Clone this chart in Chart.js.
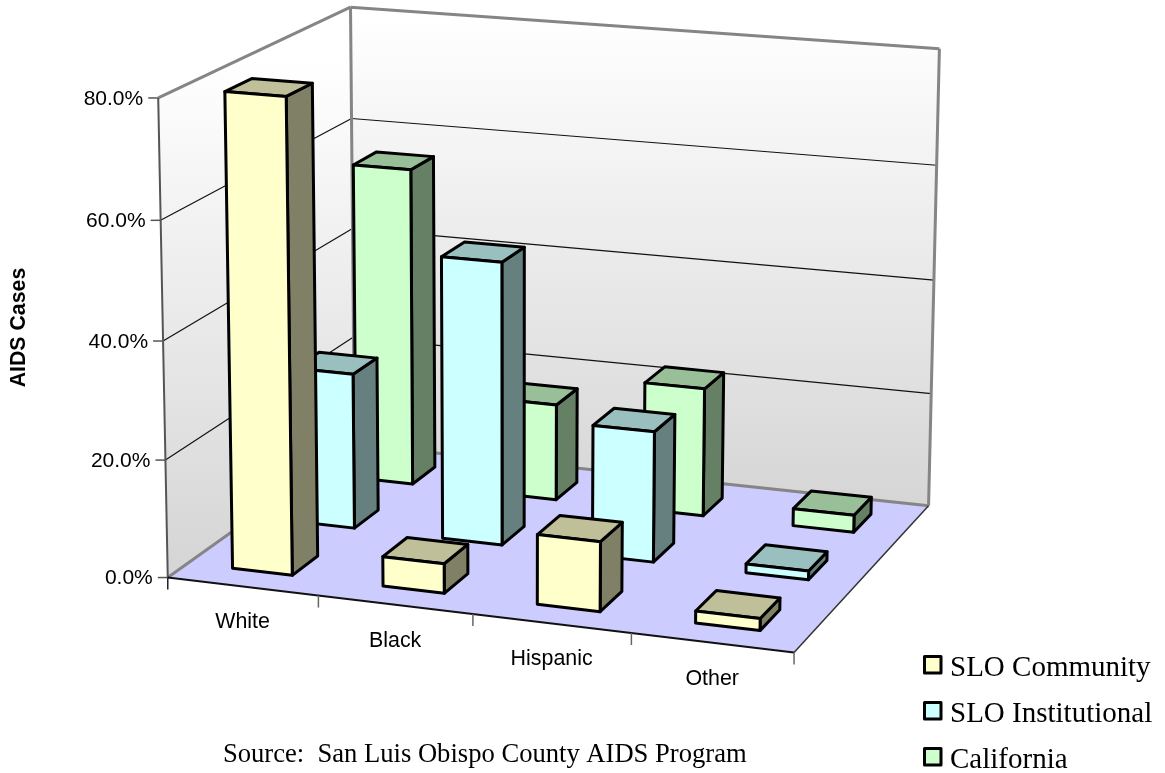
<!DOCTYPE html>
<html>
<head>
<meta charset="utf-8">
<title>AIDS Cases</title>
<script src="https://cdn.jsdelivr.net/npm/chart.js@4/dist/chart.umd.min.js"></script>
<style>
  html, body { margin: 0; padding: 0; background: #fff; }
  canvas { display: block; }
</style>
</head>
<body>
<canvas id="cases-chart" width="1165" height="773"></canvas>
<script>
const groups = ['White', 'Black', 'Hispanic', 'Other'];
const seriesNames = ['SLO Community', 'SLO Institutional', 'California'];
const sloCommunity = [80, 5, 11.7, 2];
const sloInstitutional = [27, 48.7, 22.4, 1.5];
const california = [56.3, 17, 22.5, 3];
const valueTicks = [0, 20, 40, 60, 80];

const frontColors = ['#FFFFCC', '#CCFFFF', '#CCFFCC'];
const topColors = ['#BFBF99', '#99BFBF', '#99BF99'];
const sideColors = ['#808066', '#668080', '#668066'];

// camera of the 3D box: [across, depth, height] -> canvas position of its corners
const boxCorners = [
    [0, 0, 0, 169, 577],
    [1, 0, 0, 794, 653],
    [1, 1, 0, 929, 505],
    [0, 1, 0, 353, 445],
    [0, 0, 1, 157, 98],
    [0, 1, 1, 352, 7],
    [1, 1, 1, 939, 49]
];

// share of a category band taken by a bar (gap width 150%)
const barShare = 0.4;

// least squares fit of the 3x4 projection matrix
function solveCamera(points) {
    const rows = [];
    const rhs = [];
    points.forEach(([a, b, c, px, py]) => {
        rows.push([a, b, c, 1, 0, 0, 0, 0, -px * a, -px * b, -px * c]);
        rhs.push(px);
        rows.push([0, 0, 0, 0, a, b, c, 1, -py * a, -py * b, -py * c]);
        rhs.push(py);
    });
    const n = 11;
    const m = [];
    for (let i = 0; i < n; i++) {
        m[i] = [];
        for (let j = 0; j < n; j++) {
            m[i][j] = rows.reduce((sum, r) => sum + r[i] * r[j], 0);
        }
        m[i][n] = rows.reduce((sum, r, k) => sum + r[i] * rhs[k], 0);
    }
    for (let i = 0; i < n; i++) {
        let pivot = i;
        for (let k = i + 1; k < n; k++) {
            if (Math.abs(m[k][i]) > Math.abs(m[pivot][i])) pivot = k;
        }
        [m[i], m[pivot]] = [m[pivot], m[i]];
        for (let k = 0; k < n; k++) {
            if (k === i) continue;
            const f = m[k][i] / m[i][i];
            for (let j = i; j <= n; j++) m[k][j] -= f * m[i][j];
        }
    }
    return m.map((row, i) => row[n] / row[i]);
}

const cam = solveCamera(boxCorners);

function project(a, b, c) {
    const w = cam[8] * a + cam[9] * b + cam[10] * c + 1;
    return [
        (cam[0] * a + cam[1] * b + cam[2] * c + cam[3]) / w,
        (cam[4] * a + cam[5] * b + cam[6] * c + cam[7]) / w
    ];
}

function polygon(ctx, pts, fill, stroke, lineWidth) {
    ctx.beginPath();
    pts.forEach((p, i) => (i ? ctx.lineTo(p[0], p[1]) : ctx.moveTo(p[0], p[1])));
    ctx.closePath();
    if (fill) {
        ctx.fillStyle = fill;
        ctx.fill();
    }
    if (stroke) {
        ctx.strokeStyle = stroke;
        ctx.lineWidth = lineWidth;
        ctx.stroke();
    }
}

function line(ctx, p, q, color, width) {
    ctx.beginPath();
    ctx.moveTo(p[0], p[1]);
    ctx.lineTo(q[0], q[1]);
    ctx.strokeStyle = color;
    ctx.lineWidth = width;
    ctx.stroke();
}

function wallGradient(ctx, top, bottom) {
    const g = ctx.createLinearGradient(0, top, 0, bottom);
    g.addColorStop(0, '#ffffff');
    g.addColorStop(1, '#d6d6d6');
    return g;
}

// floor, walls, gridlines, ticks and their labels
function drawBox(chart) {
    const ctx = chart.ctx;
    const y = chart.scales.y;
    const x = chart.scales.x;
    const heightOf = v => (y.bottom - y.getPixelForValue(v)) / y.height;
    const acrossOf = v => (x.getPixelForValue(v) - x.left) / x.width;

    polygon(ctx, [project(0, 0, 0), project(0, 1, 0), project(0, 1, 1), project(0, 0, 1)], wallGradient(ctx, 60, 560));
    polygon(ctx, [project(0, 1, 0), project(1, 1, 0), project(1, 1, 1), project(0, 1, 1)], wallGradient(ctx, 15, 500));
    polygon(ctx, [project(0, 0, 0), project(1, 0, 0), project(1, 1, 0), project(0, 1, 0)], '#CCCCFF');

    y.ticks.forEach(tick => {
        const h = heightOf(tick.value);
        const front = project(0, 0, h);
        if (tick.value > 0 && tick.value < 80) {
            line(ctx, front, project(0, 1, h), '#111', 1.2);
            line(ctx, project(0, 1, h), project(1, 1, h), '#111', 1.2);
        }
        line(ctx, [front[0] - 10, front[1]], front, '#555', 1.5);
        ctx.fillStyle = '#000';
        ctx.font = '21px "Liberation Sans"';
        ctx.textAlign = 'right';
        ctx.textBaseline = 'middle';
        ctx.fillText(tick.label, front[0] - 15, front[1] + 1);
    });

    // outline of the walls
    line(ctx, project(0, 0, 1), project(0, 1, 1), '#858585', 3);
    line(ctx, project(0, 1, 1), project(1, 1, 1), '#858585', 3);
    line(ctx, project(0, 1, 0), project(0, 1, 1), '#858585', 3);
    line(ctx, project(1, 1, 0), project(1, 1, 1), '#858585', 3);
    line(ctx, project(0, 0, 0), project(0, 1, 0), '#858585', 3);
    line(ctx, project(0, 1, 0), project(1, 1, 0), '#858585', 3);
    line(ctx, project(0, 0, 0), project(0, 0, 1), '#555', 2);
    line(ctx, project(0, 0, 0), project(1, 0, 0), '#111', 2);
    line(ctx, project(1, 0, 0), project(1, 1, 0), '#333', 1.5);

    // category separators under the front edge
    for (let i = 0; i <= groups.length; i++) {
        const p = project(acrossOf(i - 0.5), 0, 0);
        line(ctx, p, [p[0], p[1] + 12], i === 0 ? '#222' : '#666', 1.5);
    }
    ctx.fillStyle = '#000';
    ctx.font = '21.4px "Liberation Sans"';
    ctx.textAlign = 'center';
    ctx.textBaseline = 'middle';
    groups.forEach((name, i) => {
        const p = project(acrossOf(i), 0, 0);
        ctx.fillText(name, p[0], p[1] + 36);
    });
}

// one 3D column: front, top and right side
function drawColumn(chart, seriesIndex, groupIndex, value) {
    const ctx = chart.ctx;
    const { x, y, z } = chart.scales;
    const halfAcross = barShare / groups.length / 2;
    const halfDepth = barShare / seriesNames.length / 2;
    const a = (x.getPixelForValue(groupIndex) - x.left) / x.width;
    const b = (z.getPixelForValue(seriesIndex) - z.left) / z.width;
    const h = (y.bottom - y.getPixelForValue(value)) / y.height;
    const a0 = a - halfAcross, a1 = a + halfAcross;
    const b0 = b - halfDepth, b1 = b + halfDepth;

    ctx.lineJoin = 'round';
    polygon(ctx, [project(a1, b0, 0), project(a1, b1, 0), project(a1, b1, h), project(a1, b0, h)], sideColors[seriesIndex], '#000', 3);
    polygon(ctx, [project(a0, b0, h), project(a1, b0, h), project(a1, b1, h), project(a0, b1, h)], topColors[seriesIndex], '#000', 3);
    polygon(ctx, [project(a0, b0, 0), project(a1, b0, 0), project(a1, b0, h), project(a0, b0, h)], frontColors[seriesIndex], '#000', 3);
}

function drawLegend(chart) {
    const ctx = chart.ctx;
    chart.data.datasets.forEach((ds, i) => {
        const rowY = 665 + i * 46;
        ctx.fillStyle = ds.backgroundColor;
        ctx.strokeStyle = '#000';
        ctx.lineWidth = 3;
        ctx.fillRect(924.5, rowY - 8.5, 16.5, 16.5);
        ctx.strokeRect(924.5, rowY - 8.5, 16.5, 16.5);
        ctx.fillStyle = '#000';
        ctx.font = '29px "Liberation Serif"';
        ctx.textAlign = 'left';
        ctx.textBaseline = 'middle';
        ctx.fillText(ds.label, 950, rowY + 3);
    });
}

const scene3d = {
    id: 'scene3d',
    // the flat bars are replaced by their projected columns
    beforeDatasetsDraw(chart) {
        drawBox(chart);
        for (let s = seriesNames.length - 1; s >= 0; s--) {
            const values = chart.data.datasets[s].data;
            values.forEach((v, g) => drawColumn(chart, s, g, v));
        }
        drawLegend(chart);
        return false;
    }
};

new Chart(document.getElementById('cases-chart'), {
    type: 'bar',
    data: {
        labels: groups,
        datasets: [
            { label: seriesNames[0], data: sloCommunity, backgroundColor: frontColors[0] },
            { label: seriesNames[1], data: sloInstitutional, backgroundColor: frontColors[1] },
            { label: seriesNames[2], data: california, backgroundColor: frontColors[2] }
        ]
    },
    plugins: [scene3d],
    options: {
        responsive: false,
        animation: false,
        layout: { padding: { top: 30, left: 2, right: 239, bottom: 2 } },
        plugins: { legend: { display: false }, tooltip: { enabled: false } },
        scales: {
            x: {
                grid: { display: false },
                border: { display: false },
                ticks: { display: false },
                title: {
                    display: true,
                    text: 'Source:  San Luis Obispo County AIDS Program',
                    font: { family: '"Liberation Serif"', size: 26.6 },
                    color: '#000',
                    padding: { top: 106, bottom: 0 }
                }
            },
            y: {
                min: 0,
                max: 80,
                afterBuildTicks(scale) {
                    scale.ticks = valueTicks.map(value => ({ value }));
                },
                grid: { display: false },
                border: { display: false },
                ticks: { display: false, callback: v => v.toFixed(1) + '%' },
                title: {
                    display: true,
                    text: 'AIDS Cases',
                    font: { family: '"Liberation Sans"', size: 21.3, weight: 'bold' },
                    color: '#000'
                }
            },
            // depth axis of the box, one band per series
            z: {
                type: 'category',
                axis: 'x',
                position: 'top',
                labels: seriesNames,
                offset: true,
                display: false
            }
        }
    }
});
</script>
</body>
</html>
